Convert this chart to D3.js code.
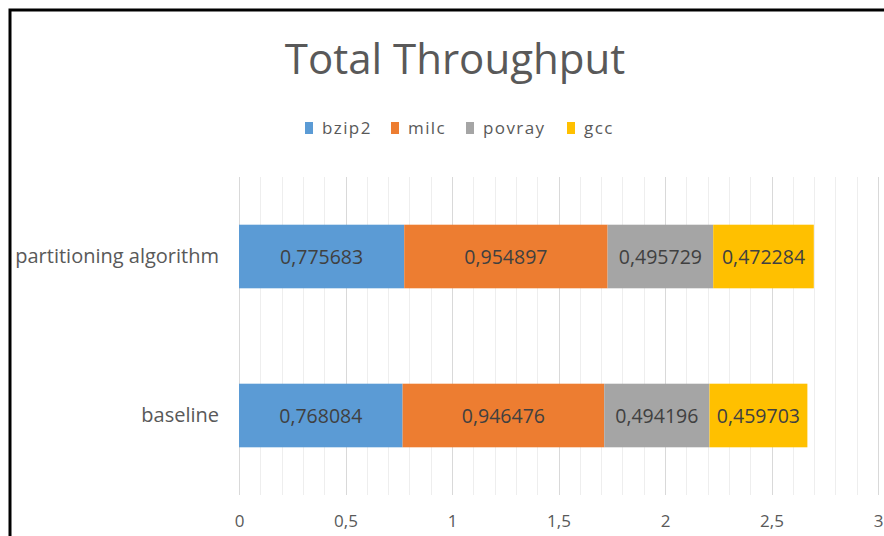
<!DOCTYPE html>
<html>
<head>
<meta charset="utf-8">
<script src="https://cdn.jsdelivr.net/npm/d3@7"></script>
<style>
  body { margin: 0; background: #fff; }
  svg { display: block; font-family: "Open Sans", Lato, sans-serif; }
</style>
</head>
<body>
<svg width="884" height="536"></svg>
<script>
// data
const categories = ["baseline", "partitioning algorithm"];
const seriesNames = ["bzip2", "milc", "povray", "gcc"];
const bzip2 = [0.768084, 0.775683];
const milc = [0.946476, 0.954897];
const povray = [0.494196, 0.495729];
const gcc = [0.459703, 0.472284];
const xTicks = [0, 0.5, 1, 1.5, 2, 2.5, 3];

const colors = ["#5B9BD5", "#ED7D31", "#A5A5A5", "#FFC000"];
const values = { bzip2, milc, povray, gcc };

const rows = categories.map((c, i) => ({
  cat: c, bzip2: bzip2[i], milc: milc[i], povray: povray[i], gcc: gcc[i]
}));
const series = d3.stack().keys(seriesNames)(rows);

const svg = d3.select("svg");

// border (only top/left edges show in the picture)
svg.append("path")
  .attr("d", "M10,536 V10 H884")
  .attr("fill", "none")
  .attr("stroke", "#000")
  .attr("stroke-width", 3);

// title
svg.append("text")
  .attr("x", 455).attr("y", 74)
  .attr("text-anchor", "middle")
  .attr("fill", "#595959")
  .attr("font-size", 42)
  .text("Total Throughput");

// scales
const x = d3.scaleLinear().domain([0, 3]).range([239, 878]);
const y = d3.scaleBand()
  .domain(categories.slice().reverse())
  .range([177, 495])
  .paddingInner(0.6)
  .paddingOuter(0.3);

// gridlines, minor every 0.1
const minor = d3.range(0, 31).map(d => d / 10);
svg.append("g").selectAll("line")
  .data(minor)
  .join("line")
  .attr("x1", d => Math.round(x(d)) + 0.5)
  .attr("x2", d => Math.round(x(d)) + 0.5)
  .attr("y1", 177).attr("y2", 495)
  .attr("stroke", (d, i) => i % 5 === 0 ? "#d9d9d9" : "#eeeeee")
  .attr("stroke-width", 1);

// bars
const layers = svg.append("g").selectAll("g")
  .data(series)
  .join("g")
  .attr("fill", (d, i) => colors[i]);

layers.selectAll("rect")
  .data(d => d)
  .join("rect")
  .attr("x", d => x(d[0]))
  .attr("y", d => y(d.data.cat))
  .attr("width", d => x(d[1]) - x(d[0]))
  .attr("height", y.bandwidth());

const fmt = v => String(v).replace(".", ",");

layers.selectAll("text")
  .data(d => d.map(v => ({ key: d.key, v })))
  .join("text")
  .attr("x", d => (x(d.v[0]) + x(d.v[1])) / 2)
  .attr("y", d => y(d.v.data.cat) + y.bandwidth() / 2)
  .attr("dy", "0.36em")
  .attr("text-anchor", "middle")
  .attr("fill", "#404040")
  .attr("font-size", 19.5)
  .text(d => fmt(values[d.key][categories.indexOf(d.v.data.cat)]));

// x axis labels
const xAxis = svg.append("g")
  .attr("transform", "translate(0,511)")
  .call(d3.axisBottom(x).tickValues(xTicks).tickSize(0).tickPadding(4).tickFormat(fmt));
xAxis.select(".domain").remove();
xAxis.selectAll("text")
  .attr("font-family", "'Open Sans', sans-serif")
  .attr("font-size", 17)
  .attr("fill", "#595959");

// y axis labels
const yAxis = svg.append("g")
  .attr("transform", "translate(239,0)")
  .call(d3.axisLeft(y).tickSize(0).tickPadding(20));
yAxis.select(".domain").remove();
yAxis.selectAll("text")
  .attr("font-family", "'Open Sans', sans-serif")
  .attr("font-size", 20)
  .attr("fill", "#595959");

// legend
const legendX = [305, 391, 466, 567];
const legend = svg.append("g").selectAll("g")
  .data(seriesNames)
  .join("g")
  .attr("transform", (d, i) => `translate(${legendX[i]},122)`);
legend.append("rect")
  .attr("width", 8).attr("height", 12)
  .attr("fill", (d, i) => colors[i]);
legend.append("text")
  .attr("x", 17).attr("y", 6)
  .attr("dy", "0.36em")
  .attr("font-size", 17)
  .attr("letter-spacing", 1.4)
  .attr("fill", "#595959")
  .text(d => d);
</script>
</body>
</html>
